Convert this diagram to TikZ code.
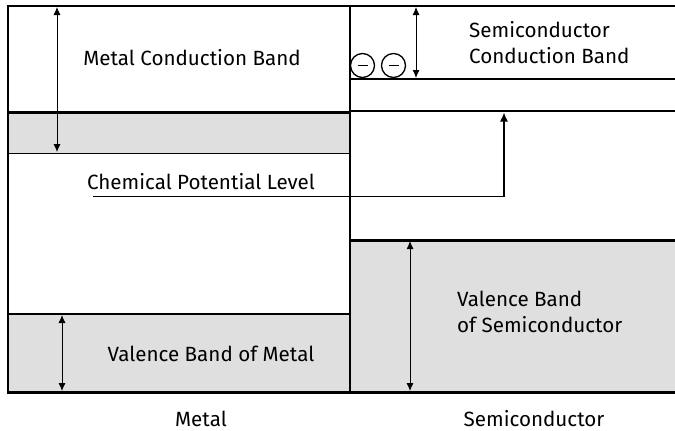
\documentclass[tikz,border=0pt]{standalone}
\usepackage{fontspec}
\setmainfont{Fira Sans}
\usetikzlibrary{arrows.meta}
\definecolor{bandgray}{RGB}{223,223,223}
\begin{document}
\begin{tikzpicture}[x=1pt,y=-1pt,
  lbl/.style={font=\fontsize{20.6}{26}\selectfont, inner sep=0pt},
  heavy/.style={line width=2.4pt},
  mid/.style={line width=1.5pt},
  dim/.style={line width=0.9pt, {Latex[length=8pt,width=7pt]}-{Latex[length=8pt,width=7pt]}},
  ptr/.style={line width=1.5pt, -{Latex[length=9pt,width=8pt]}},
  elec/.style={circle, draw, line width=1.3pt, minimum size=24pt, inner sep=0pt}]
\useasboundingbox (0,0) rectangle (675,431);
% fills
\fill[bandgray] (8,112) rectangle (349,154);
\fill[bandgray] (8,314) rectangle (349,392);
\fill[bandgray] (350,240) rectangle (675,392);
% frame lines
\draw[line width=2pt] (7,6) -- (675,6);
\draw[line width=2pt] (8,5) -- (8,393);
\draw[line width=2pt] (349.5,5) -- (349.5,393);
\draw[heavy] (7,112.5) -- (349,112.5);
\draw[mid] (8,153.5) -- (349,153.5);
\draw[mid] (8,314) -- (349,314);
\draw[heavy] (7,392.5) -- (675,392.5);
\draw[mid] (349,79) -- (675,79);
\draw[mid] (349,111) -- (675,111);
\draw[heavy] (349,240.5) -- (675,240.5);
% dimension arrows
\coordinate (mcbT) at (57,7);   \coordinate (mcbB) at (57,152);
\coordinate (mvbT) at (62,315); \coordinate (mvbB) at (62,391);
\coordinate (scbT) at (416,7);  \coordinate (scbB) at (416,78);
\coordinate (svbT) at (410,241); \coordinate (svbB) at (410,391);
\draw[dim] (mcbT) -- (mcbB);
\draw[dim] (mvbT) -- (mvbB);
\draw[dim] (scbT) -- (scbB);
\draw[dim] (svbT) -- (svbB);
% electrons
\node[elec] (e1) at (362.5,65.5) {};
\node[elec] (e2) at (393.5,65.5) {};
\draw[line width=1.3pt] ([xshift=-5pt]e1.center) -- ([xshift=5pt]e1.center);
\draw[line width=1.3pt] ([xshift=-5pt]e2.center) -- ([xshift=5pt]e2.center);
% labels
\node[lbl] (mcb) at (192,58) {Metal Conduction Band};
\node[lbl] (cpl) at (201,182) {Chemical Potential Level};
\node[lbl, align=left, anchor=west] (scb) at (469,43) {Semiconductor\\Conduction Band};
\node[lbl] (mvb) at (211,354) {Valence Band of Metal};
\node[lbl, align=left, anchor=west] (svb) at (457,312) {Valence Band\\of Semiconductor};
\node[lbl] (metal) at (201,419) {Metal};
\node[lbl] (semi) at (534,419) {Semiconductor};
% chemical potential pointer
\coordinate (cpS) at (93,196.5);
\coordinate (cpC) at (504,196.5);
\coordinate (cpE) at (504,112.5);
\draw[ptr] (cpS) -- (cpC) -- (cpE);
\end{tikzpicture}
\end{document}
